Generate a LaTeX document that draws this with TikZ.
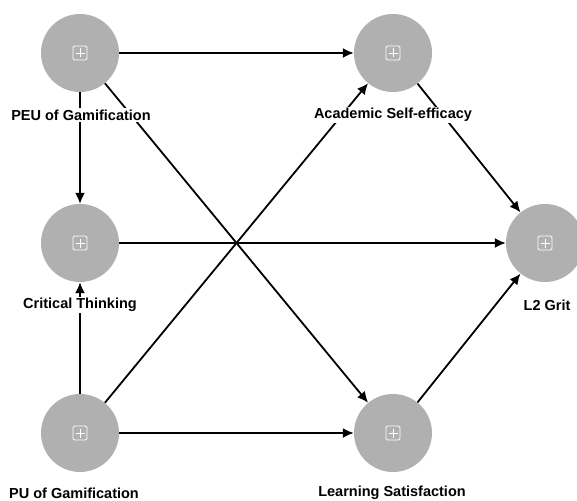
\documentclass[tikz,border=0pt]{standalone}
\usepackage{fontspec}
\setmainfont{Liberation Sans}
\usetikzlibrary{arrows.meta}
\definecolor{lv}{RGB}{176,176,176}
\begin{document}
\begin{tikzpicture}[x=1pt,y=-1pt,
  lvnode/.style={circle,fill=lv,draw=none,minimum size=78pt,inner sep=0pt},
  lbl/.style={fill=white,inner sep=1.5pt,font=\bfseries\fontsize{14.5}{16}\selectfont},
  conn/.style={line width=1.8pt,-{Latex[length=11pt,width=10pt]}}
]
\useasboundingbox (0,0) rectangle (577,500);
\node[lvnode] (peu) at (80,53) {};
\node[lvnode] (ase) at (393,53) {};
\node[lvnode] (ct) at (80,243) {};
\node[lvnode] (grit) at (545,243) {};
\node[lvnode] (pu) at (80,433) {};
\node[lvnode] (ls) at (393,433) {};
\foreach \n in {peu,ase,ct,grit,pu,ls}{
  \draw[white,line width=0.8pt,rounded corners=1.5pt] ([shift={(-7,-7)}]\n.center) rectangle ([shift={(7,7)}]\n.center);
  \draw[white,line width=0.8pt] ([shift={(-4.5,0)}]\n.center) -- ([shift={(4.5,0)}]\n.center);
  \draw[white,line width=0.8pt] ([shift={(0,-4.5)}]\n.center) -- ([shift={(0,4.5)}]\n.center);
}
\draw[conn] (peu) -- (ase);
\draw[conn] (peu) -- (ct);
\draw[conn] (peu) -- (ls);
\draw[conn] (ct) -- (grit);
\draw[conn] (pu) -- (ct);
\draw[conn] (pu) -- (ase);
\draw[conn] (pu) -- (ls);
\draw[conn] (ase) -- (grit);
\draw[conn] (ls) -- (grit);
\node[lbl] (lpeu) at (81,115) {PEU of Gamification};
\node[lbl] (lase) at (393,115) {Academic Self-efficacy};
\node[lbl] (lct) at (80,305) {Critical Thinking};
\node[lbl] (lgrit) at (547,305) {L2 Grit};
\node[lbl] (lpu) at (74,493) {PU of Gamification};
\node[lbl] (lls) at (392,493) {Learning Satisfaction};
\end{tikzpicture}
\end{document}
